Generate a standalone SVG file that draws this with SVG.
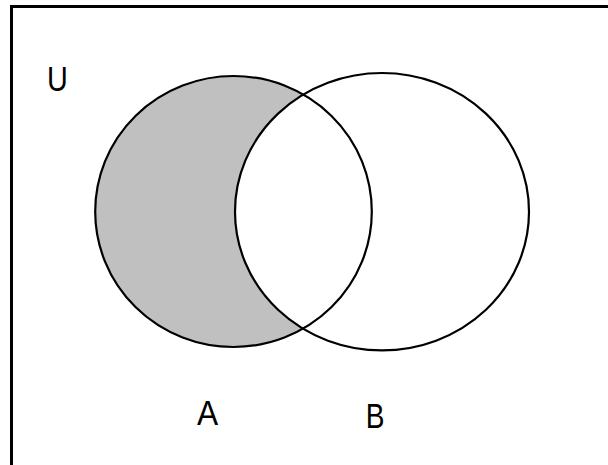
<svg xmlns="http://www.w3.org/2000/svg" width="608" height="465" viewBox="0 0 608 465">
<style>
.lbl{font-family:"Liberation Sans",Arial,sans-serif;font-size:36px;fill:#000}
.ol{fill:none;stroke:#000;stroke-width:2.2}
</style>
<rect width="608" height="465" fill="#fff"/>
<g id="universe">
<rect x="11.5" y="6.5" width="700" height="700" fill="none" stroke="#000" stroke-width="3"/>
<text class="lbl" x="47" y="91" transform="translate(47 0) scale(0.8 1) translate(-47 0)">U</text>
</g>
<g id="setA-fill">
<ellipse cx="233.5" cy="211.5" rx="138.3" ry="135.5" fill="#c0c0c0"/>
</g>
<g id="setB-fill">
<ellipse cx="382" cy="211.7" rx="147" ry="138.7" fill="#fff"/>
</g>
<g id="setA">
<ellipse class="ol" cx="233.5" cy="211.5" rx="138.3" ry="135.5"/>
<text class="lbl" x="207.5" y="425" text-anchor="middle" transform="translate(207.5 0) scale(0.88 1) translate(-207.5 0)">A</text>
</g>
<g id="setB">
<ellipse class="ol" cx="382" cy="211.7" rx="147" ry="138.7"/>
<text class="lbl" x="375" y="428" text-anchor="middle" transform="translate(375 0) scale(0.78 1) translate(-375 0)">B</text>
</g>
<g id="connectors"/>
</svg>
